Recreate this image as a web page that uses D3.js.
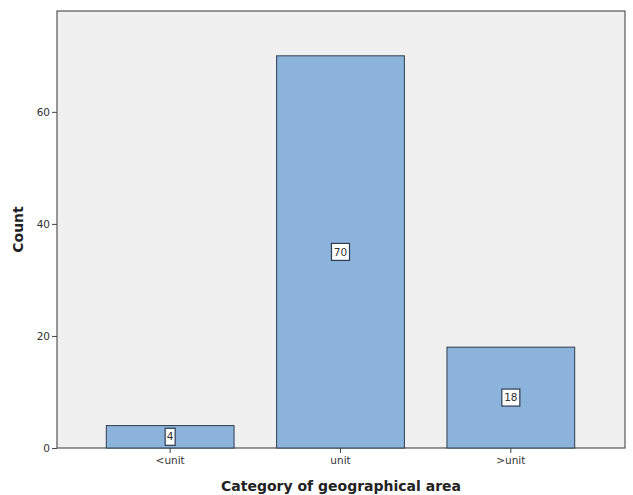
<!DOCTYPE html>
<html><head><meta charset="utf-8">
<script src="https://cdn.jsdelivr.net/npm/d3@7"></script>
<style>body{margin:0;background:#fff;}svg{display:block;}</style>
</head><body>
<svg id="c" width="633" height="495"></svg>
<script>
const categories = ["<unit", "unit", ">unit"];
const counts = [4, 70, 18];
const yTicks = [0, 20, 40, 60];

const svg = d3.select("#c");
const L = 57, T = 11, R = 625, B = 448;
const x = d3.scaleBand().domain(categories).range([85, 596]).paddingInner(0.25).paddingOuter(0.125);
const y = d3.scaleLinear().domain([0, 78]).range([B, T]);

svg.append("rect").attr("x", L).attr("y", T).attr("width", R - L).attr("height", B - T)
  .attr("fill", "#f0f0f0").attr("stroke", "#555").attr("stroke-width", 1.2);

svg.selectAll("rect.bar").data(counts).join("rect").attr("class", "bar")
  .attr("x", (d, i) => x(categories[i])).attr("width", x.bandwidth())
  .attr("y", d => y(d)).attr("height", d => y(0) - y(d))
  .attr("fill", "#8cb3dc").attr("stroke", "#2e3d4e").attr("stroke-width", 1);

const yAxis = svg.append("g").attr("transform", `translate(${L},0)`)
  .call(d3.axisLeft(y).tickValues(yTicks).tickSize(5).tickPadding(2));
yAxis.select(".domain").remove();
yAxis.selectAll("line").attr("stroke", "#444");
yAxis.selectAll("text").attr("font-family", "'DejaVu Sans', sans-serif").attr("font-size", 10.5).attr("fill", "#333");

const xAxis = svg.append("g").attr("transform", `translate(0,${B})`)
  .call(d3.axisBottom(x).tickSize(5).tickPadding(4));
xAxis.select(".domain").remove();
xAxis.selectAll("line").attr("stroke", "#444");
xAxis.selectAll("text").attr("font-family", "'DejaVu Sans', sans-serif").attr("font-size", 10.5).attr("fill", "#333");

// value labels
const lab = svg.selectAll("g.lab").data(counts).join("g").attr("class", "lab")
  .attr("transform", (d, i) => `translate(${x(categories[i]) + x.bandwidth() / 2},${(y(d) + y(0)) / 2})`);
lab.append("rect").attr("x", d => String(d).length === 1 ? -5 : -9).attr("y", -8.5)
  .attr("width", d => String(d).length === 1 ? 10 : 18).attr("height", 17)
  .attr("fill", "#fff").attr("stroke", "#2e3d4e").attr("stroke-width", 1.2);
lab.append("text").text(d => d).attr("text-anchor", "middle").attr("dy", "0.35em")
  .attr("font-family", "'DejaVu Sans', sans-serif").attr("font-size", 10.5).attr("fill", "#333");

svg.append("text").text("Count").attr("transform", `translate(23,${(T + B) / 2}) rotate(-90)`)
  .attr("text-anchor", "middle").attr("font-family", "'DejaVu Sans', sans-serif")
  .attr("font-size", 14).attr("font-weight", "bold").attr("fill", "#222");
svg.append("text").text("Category of geographical area").attr("x", 341).attr("y", 491)
  .attr("text-anchor", "middle").attr("font-family", "'DejaVu Sans', sans-serif")
  .attr("font-size", 14).attr("font-weight", "bold").attr("fill", "#222");
</script>
</body></html>
